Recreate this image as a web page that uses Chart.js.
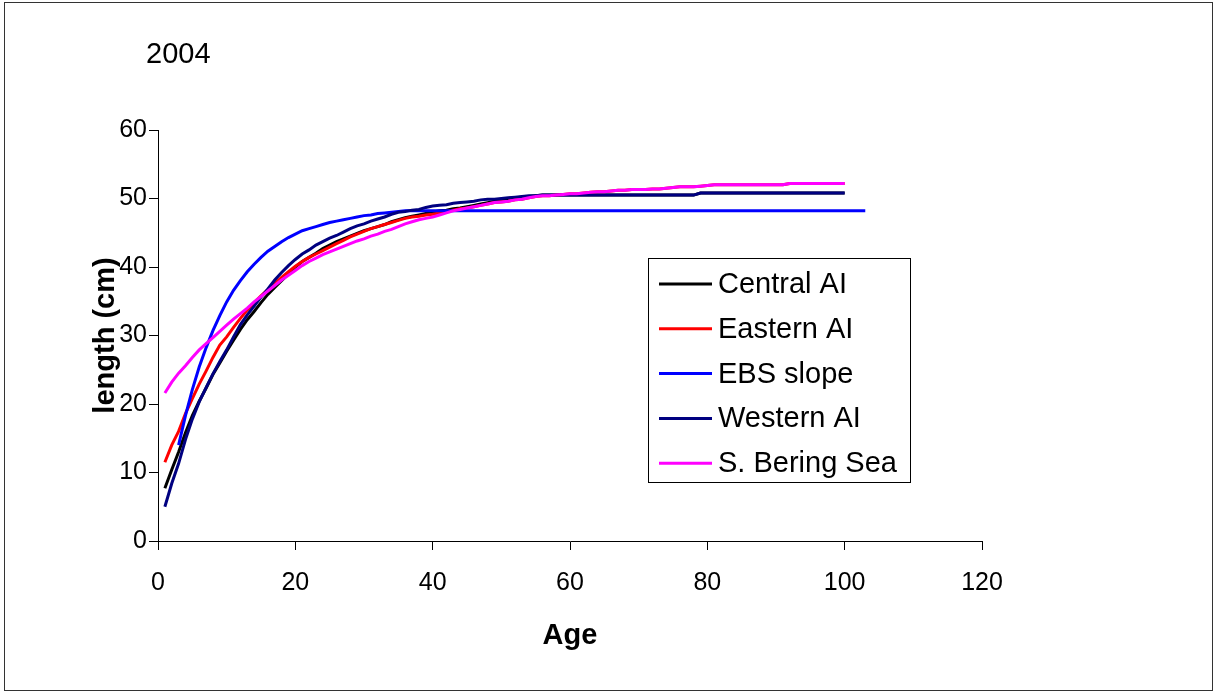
<!DOCTYPE html>
<html>
<head>
<meta charset="utf-8">
<title>Length at age 2004</title>
<script src="https://cdn.jsdelivr.net/npm/chart.js@4.4.1/dist/chart.umd.min.js"></script>
<style>
  html, body { margin: 0; padding: 0; background: #fff; }
  #wrap { position: relative; width: 1217px; height: 694px; }
  #frame {
    position: absolute; left: 4px; top: 2px; width: 1207px; height: 687px;
    border: 1px solid #333; pointer-events: none;
  }
</style>
</head>
<body>
<div id="wrap">
  <canvas id="lenChart" width="1217" height="694"></canvas>
  <div id="frame"></div>
</div>
<script>
const yearLabel = "2004";
const xTitle = "Age";
const yTitle = "length (cm)";

// ages 1..100 for the Aleutian / Bering Sea areas, 3..103 for the EBS slope
const firstAge = 1;
const ebsFirstAge = 3;

const centralAI = [
  7.7, 10.4, 13.0, 15.8, 18.3, 20.4, 22.3, 24.3, 26.0, 27.7,
  29.3, 30.9, 32.3, 33.5, 34.8, 36.0, 37.0, 38.0, 39.0, 40.0,
  40.8, 41.4, 42.0, 42.7, 43.2, 43.7, 44.1, 44.5, 44.9, 45.3,
  45.6, 45.9, 46.2, 46.6, 46.9, 47.2, 47.4, 47.6, 47.8, 48.0,
  48.2, 48.3, 48.5, 48.6, 48.8, 49.0, 49.2, 49.4, 49.6, 49.8,
  50.0, 50.1, 50.2, 50.3, 50.4, 50.5, 50.5, 50.5, 50.5, 50.5,
  50.5, 50.5, 50.5, 50.5, 50.5, 50.5, 50.5, 50.5, 50.5, 50.5,
  50.5, 50.5, 50.5, 50.5, 50.5, 50.5, 50.5, 50.5, 50.8, 50.8,
  50.8, 50.8, 50.8, 50.8, 50.8, 50.8, 50.8, 50.8, 50.8, 50.8,
  50.8, 50.8, 50.8, 50.8, 50.8, 50.8, 50.8, 50.8, 50.8, 50.8
];

const easternAI = [
  11.5, 14.0, 16.0, 18.6, 20.8, 22.9, 24.8, 26.8, 28.6, 29.8,
  31.2, 32.5, 33.7, 34.8, 35.8, 36.7, 37.6, 38.5, 39.3, 40.1,
  40.8, 41.4, 41.9, 42.4, 42.9, 43.4, 43.9, 44.4, 44.8, 45.2,
  45.6, 45.9, 46.2, 46.5, 46.8, 47.1, 47.3, 47.4, 47.6, 47.7,
  47.9, 48.1, 48.3, 48.5, 48.6, 48.8, 49.0, 49.2, 49.4, 49.5,
  49.6, 49.8, 49.9, 50.1, 50.3, 50.4, 50.4, 50.5, 50.6, 50.7,
  50.7, 50.8, 50.9, 51.0, 51.0, 51.1, 51.2, 51.2, 51.3, 51.3,
  51.3, 51.4, 51.4, 51.5, 51.6, 51.7, 51.7, 51.7, 51.8, 51.9,
  52.0, 52.0, 52.0, 52.0, 52.0, 52.0, 52.0, 52.0, 52.0, 52.0,
  52.0, 52.2, 52.2, 52.2, 52.2, 52.2, 52.2, 52.2, 52.2, 52.2
];

const ebsSlope = [
  14.0, 18.3, 22.1, 25.4, 28.2, 30.7, 32.9, 34.9, 36.6, 38.0,
  39.3, 40.4, 41.4, 42.3, 43.0, 43.7, 44.3, 44.8, 45.3, 45.6,
  45.9, 46.2, 46.5, 46.7, 46.9, 47.1, 47.3, 47.5, 47.6, 47.8,
  47.9, 48.0, 48.1, 48.2, 48.2, 48.2, 48.2, 48.2, 48.2, 48.2,
  48.2, 48.2, 48.2, 48.2, 48.2, 48.2, 48.2, 48.2, 48.2, 48.2,
  48.2, 48.2, 48.2, 48.2, 48.2, 48.2, 48.2, 48.2, 48.2, 48.2,
  48.2, 48.2, 48.2, 48.2, 48.2, 48.2, 48.2, 48.2, 48.2, 48.2,
  48.2, 48.2, 48.2, 48.2, 48.2, 48.2, 48.2, 48.2, 48.2, 48.2,
  48.2, 48.2, 48.2, 48.2, 48.2, 48.2, 48.2, 48.2, 48.2, 48.2,
  48.2, 48.2, 48.2, 48.2, 48.2, 48.2, 48.2, 48.2, 48.2, 48.2,
  48.2
];

const westernAI = [
  5.0, 8.4, 11.3, 14.8, 17.8, 20.3, 22.4, 24.4, 26.2, 27.9,
  29.8, 31.6, 33.0, 34.3, 35.6, 36.8, 38.1, 39.2, 40.2, 41.1,
  41.9, 42.5, 43.2, 43.7, 44.2, 44.6, 45.1, 45.6, 46.0, 46.3,
  46.7, 47.0, 47.3, 47.7, 48.0, 48.1, 48.3, 48.4, 48.7, 48.9,
  49.0, 49.1, 49.3, 49.4, 49.5, 49.6, 49.8, 49.9, 49.9, 50.0,
  50.1, 50.2, 50.3, 50.4, 50.4, 50.5, 50.5, 50.5, 50.5, 50.5,
  50.5, 50.5, 50.5, 50.5, 50.5, 50.5, 50.5, 50.5, 50.5, 50.5,
  50.5, 50.5, 50.5, 50.5, 50.5, 50.5, 50.5, 50.5, 50.8, 50.8,
  50.8, 50.8, 50.8, 50.8, 50.8, 50.8, 50.8, 50.8, 50.8, 50.8,
  50.8, 50.8, 50.8, 50.8, 50.8, 50.8, 50.8, 50.8, 50.8, 50.8
];

const sBeringSea = [
  21.6, 23.2, 24.5, 25.6, 26.8, 27.9, 28.8, 29.7, 30.6, 31.5,
  32.4, 33.2, 34.0, 34.9, 35.7, 36.5, 37.3, 38.1, 38.8, 39.5,
  40.2, 40.8, 41.3, 41.8, 42.2, 42.6, 43.0, 43.4, 43.8, 44.1,
  44.5, 44.8, 45.2, 45.5, 45.9, 46.3, 46.6, 46.9, 47.1, 47.3,
  47.6, 47.9, 48.2, 48.4, 48.6, 48.8, 49.0, 49.2, 49.4, 49.5,
  49.6, 49.8, 49.9, 50.1, 50.3, 50.4, 50.4, 50.5, 50.6, 50.7,
  50.7, 50.8, 50.9, 51.0, 51.0, 51.1, 51.2, 51.2, 51.3, 51.3,
  51.3, 51.4, 51.4, 51.5, 51.6, 51.7, 51.7, 51.7, 51.8, 51.9,
  52.0, 52.0, 52.0, 52.0, 52.0, 52.0, 52.0, 52.0, 52.0, 52.0,
  52.0, 52.2, 52.2, 52.2, 52.2, 52.2, 52.2, 52.2, 52.2, 52.2
];

const seriesNames = ["Central AI", "Eastern AI", "EBS slope", "Western AI", "S. Bering Sea"];
const seriesColors = ["#000000", "#ff0000", "#0000ff", "#000080", "#ff00ff"];

const xTicks = [0, 20, 40, 60, 80, 100, 120];
const yTicks = [0, 10, 20, 30, 40, 50, 60];

const FONT = "'Liberation Sans', Arial, sans-serif";

function toPoints(values, startAge) {
  return values.map((v, i) => ({ x: startAge + i, y: v }));
}

const seriesData = [
  toPoints(centralAI, firstAge),
  toPoints(easternAI, firstAge),
  toPoints(ebsSlope, ebsFirstAge),
  toPoints(westernAI, firstAge),
  toPoints(sBeringSea, firstAge),
];

// year caption, boxed legend
const extras = {
  id: "extras",
  afterDraw(chart) {
    const ctx = chart.ctx;
    ctx.save();
    ctx.fillStyle = "#000";
    ctx.textBaseline = "middle";
    ctx.textAlign = "left";
    ctx.font = "29px " + FONT;
    ctx.fillText(yearLabel, 146, 55);

    const box = { left: 648, top: 258, width: 262, height: 224 };
    ctx.fillStyle = "#fff";
    ctx.fillRect(box.left, box.top, box.width, box.height);
    ctx.strokeStyle = "#000";
    ctx.lineWidth = 1;
    ctx.strokeRect(box.left + 0.5, box.top + 0.5, box.width, box.height);

    chart.data.datasets.forEach((ds, i) => {
      const y = 284 + i * 44.8;
      ctx.strokeStyle = ds.borderColor;
      ctx.lineWidth = 3;
      ctx.beginPath();
      ctx.moveTo(659, y);
      ctx.lineTo(712, y);
      ctx.stroke();
      ctx.fillStyle = "#000";
      ctx.fillText(ds.label, 718, y + 1);
    });
    ctx.restore();
  },
};

new Chart(document.getElementById("lenChart"), {
  type: "line",
  data: {
    datasets: seriesNames.map((name, i) => ({
      label: name,
      data: seriesData[i],
      borderColor: seriesColors[i],
      backgroundColor: seriesColors[i],
      borderWidth: 3,
      pointRadius: 0,
      tension: 0,
      fill: false,
      order: seriesNames.length - i, // later series painted on top
    })),
  },
  options: {
    responsive: false,
    animation: false,
    layout: { padding: { left: 86, top: 130, right: 235, bottom: 38 } },
    plugins: { legend: { display: false }, tooltip: { enabled: false } },
    scales: {
      x: {
        type: "linear",
        min: xTicks[0],
        max: xTicks[xTicks.length - 1],
        afterBuildTicks: (s) => { s.ticks = xTicks.map((v) => ({ value: v })); },
        afterFit: (s) => { s.height = 115; },
        grid: { drawOnChartArea: false, drawTicks: true, tickLength: 9, color: "#000" },
        border: { display: true, color: "#000", width: 1 },
        ticks: { color: "#000", padding: 18, font: { family: FONT, size: 25 }, maxRotation: 0 },
        title: {
          display: true, text: xTitle, color: "#000",
          padding: { top: 0, bottom: 3 },
          font: { family: FONT, size: 29, weight: "bold" },
        },
      },
      y: {
        min: yTicks[0],
        max: yTicks[yTicks.length - 1],
        afterBuildTicks: (s) => { s.ticks = yTicks.map((v) => ({ value: v })); },
        afterFit: (s) => { s.width = 72; },
        grid: { drawOnChartArea: false, drawTicks: true, tickLength: 9, color: "#000" },
        border: { display: true, color: "#000", width: 1 },
        ticks: { color: "#000", padding: 2, font: { family: FONT, size: 25 } },
        title: {
          display: true, text: yTitle, color: "#000",
          padding: { top: 3, bottom: 0 },
          font: { family: FONT, size: 29, weight: "bold" },
        },
      },
    },
  },
  plugins: [extras],
});
</script>
</body>
</html>
